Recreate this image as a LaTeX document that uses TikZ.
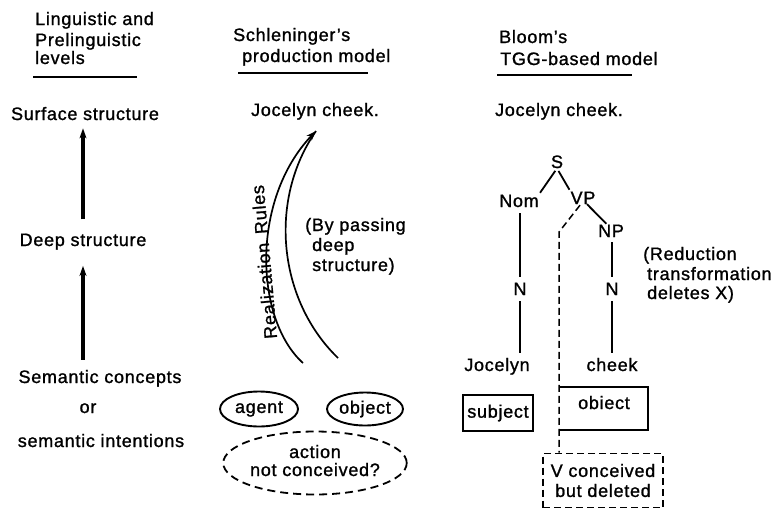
\documentclass[tikz,border=0pt]{standalone}
\usepackage{fontspec}
\setmainfont{Liberation Sans}[LetterSpace=4,FakeBold=1.2]
\usetikzlibrary{shapes.geometric,arrows.meta}
\begin{document}
\begin{tikzpicture}[x=1pt,y=-1pt,
  every node/.style={font=\fontsize{18}{20}\selectfont, inner sep=0pt},
  thickarrow/.style={line width=3.2pt,-{Stealth[length=10pt,width=7pt]}},
  curvearrow/.style={line width=1.7pt},
  curvetip/.style={line width=1.7pt,-{Stealth[length=10pt,width=7pt]}},
  treeline/.style={line width=1.8pt},
  deletedline/.style={line width=1.5pt,dash pattern=on 7pt off 4pt},
  headrule/.style={line width=2pt},
  oval/.style={ellipse,draw,line width=1.9pt},
  dashoval/.style={ellipse,draw,line width=1.8pt,dash pattern=on 8pt off 5pt},
  box/.style={rectangle,draw,line width=1.8pt},
  dashbox/.style={rectangle,draw,line width=1.6pt,dash pattern=on 7pt off 4pt}
]
\useasboundingbox (0,0) rectangle (779,509);

% ---------- headers ----------
\node[anchor=base west] (h1a) at (35,25) {Linguistic and};
\node[anchor=base west] (h1b) at (35,46) {Prelinguistic};
\node[anchor=base west] (h1c) at (35,64) {levels};
\draw[headrule] (33,77) -- (137,77);

\node[anchor=base west] (h2a) at (233,41) {Schleninger's};
\node[anchor=base west] (h2b) at (242,62) {production model};
\draw[headrule] (238,73) -- (368,73);

\node[anchor=base west] (h3a) at (499,43) {Bloom's};
\node[anchor=base west] (h3b) at (500,65) {TGG-based model};
\draw[headrule] (497,75) -- (632,75);

% ---------- column 1 ----------
\node[anchor=base] (surf) at (85,120) {Surface structure};
\node[anchor=base] (deep) at (83,246) {Deep structure};
\node[anchor=base] (sem) at (100,383) {Semantic concepts};
\node[anchor=base] (or) at (88,413) {or};
\node[anchor=base] (semint) at (101,447) {semantic intentions};
\draw[thickarrow,shorten <=14pt,shorten >=8pt] (deep.north) -- (deep.north |- surf.south);
\draw[thickarrow,shorten <=10pt,shorten >=16pt] (sem.north -| deep.north) -- (deep.south);

% ---------- column 2 ----------
\node[anchor=base] (jc2) at (315,116) {Jocelyn cheek.};
\coordinate (tip) at (316,131);
\coordinate (lstart) at (303,363);
\coordinate (rstart) at (338,358);
\draw[curvetip] (lstart) .. controls (255,320) and (250,200) .. (tip);
\draw[curvearrow] (rstart) .. controls (278,300) and (268,200) .. (tip);
\node[rotate=95] (rr) at (264,262) {Realization\hspace{9pt}Rules};
\node[anchor=base west] (bp1) at (305,231) {(By passing};
\node[anchor=base west] (bp2) at (312,251) {deep};
\node[anchor=base west] (bp3) at (312,271) {structure)};

\node[oval,minimum width=78pt,minimum height=35pt] (agent) at (259,409) {agent};
\node[oval,minimum width=76pt,minimum height=33pt] (object) at (365,409) {object};
\node[dashoval,minimum width=136pt,minimum height=63pt,align=center] (action) at (315,463) {\raisebox{5pt}{\begin{tabular}{@{}c@{}}action\\[-2pt]not conceived?\end{tabular}}};

% ---------- column 3 ----------
\node[anchor=base] (jc3) at (559,116) {Jocelyn cheek.};
\node[anchor=base] (S) at (557,168) {S};
\node[anchor=base] (Nom) at (519,207) {Nom};
\node[anchor=base] (VP) at (583,204) {VP};
\node[anchor=base] (NP) at (611,237) {NP};
\node[anchor=base] (N1) at (520,295) {N};
\node[anchor=base] (N2) at (612,295) {N};
\node[anchor=base] (joc) at (497,371) {Jocelyn};
\node[anchor=base] (chk) at (612,371) {cheek};

\draw[treeline,shorten <=3pt,shorten >=2pt] (S.south) -- (Nom.north east);
\draw[treeline,shorten <=3pt,shorten >=2pt] (S.south) -- (VP.north west);
\draw[treeline,shorten <=0pt,shorten >=1pt] ([xshift=4pt]VP.south) -- ([xshift=-4pt]NP.north);
\draw[treeline,shorten <=6pt,shorten >=5pt] (Nom.south -| N1.north) -- (N1.north);
\draw[treeline,shorten <=6pt,shorten >=5pt] (N1.south) -- (N1.south |- joc.north);
\draw[treeline,shorten <=5pt,shorten >=5pt] (NP.south -| N2.north) -- (N2.north);
\draw[treeline,shorten <=6pt,shorten >=5pt] (N2.south) -- (N2.south |- chk.north);

\node[box,minimum width=70pt,minimum height=36pt] (subj) at (498,413) {subject};
\node[minimum width=88pt,minimum height=43pt,text depth=12pt] (obj) at (604,408.5) {obiect};
\draw[line width=1.8pt] (obj.north west) -- (obj.north east) -- (obj.south east) -- (obj.south west);
\node[dashbox,minimum width=120pt,minimum height=54pt,align=center] (vbox) at (603,480.5) {V conceived\\but deleted};

\coordinate (bend) at (559,232);
\draw[deletedline] ([xshift=-3pt,yshift=-1pt]VP.south) -- (bend) -- (bend |- vbox.north);

\node[anchor=base west] (red1) at (643,260) {(Reduction};
\node[anchor=base west] (red2) at (647,280) {transformation};
\node[anchor=base west] (red3) at (647,299) {deletes X)};
\end{tikzpicture}
\end{document}
